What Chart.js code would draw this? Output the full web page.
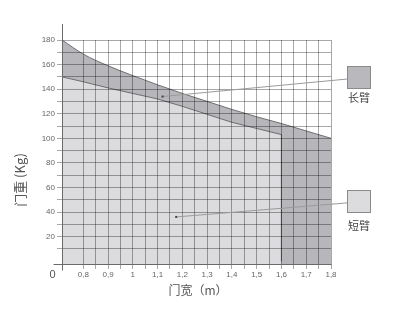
<!DOCTYPE html>
<html>
<head>
<meta charset="utf-8">
<script src="https://cdn.jsdelivr.net/npm/chart.js@4"></script>
<style>
  html, body { margin: 0; padding: 0; background: #fff; }
  canvas { display: block; }
</style>
</head>
<body>
<canvas id="chart" width="408" height="314"></canvas>
<script>
/* ==========================================
   门重 / 门宽 — 长臂 vs 短臂 zones
   ========================================== */

const X_MIN = 0.714;
const X_MAX = 1.8;
const Y_MIN = -2.3;
const Y_MAX = 180;

// door width (m) where the long-arm limit was read
const widthPts = [0.714, 0.8, 0.9, 1.0, 1.1, 1.2, 1.3, 1.4, 1.5, 1.6, 1.7, 1.8];
// 长臂 upper limit (kg)
const longArmKg = [180, 168.5, 159, 151, 143.5, 136.5, 130, 123.5, 117.5, 112, 106, 100];
// 短臂 limit (kg) — stops at 1.6 m and drops to 0
const shortArmWidth = [0.714, 0.8, 0.9, 1.0, 1.1, 1.2, 1.3, 1.4, 1.5, 1.6, 1.6];
const shortArmKg = [150, 146, 141, 136.5, 132, 126, 119.5, 113, 108, 103, 0];

// grid / tick positions
const xTicks = [0.8, 0.85, 0.9, 0.95, 1.0, 1.05, 1.1, 1.15, 1.2, 1.25, 1.3, 1.35, 1.4, 1.45, 1.5, 1.55, 1.6, 1.65, 1.7, 1.75, 1.8];
const yTicks = [10, 20, 30, 40, 50, 60, 70, 80, 90, 100, 110, 120, 130, 140, 150, 160, 170, 180];

// where the callout lines start (data coords)
const longArmMarker = { x: 1.12, y: 134 };
const shortArmMarker = { x: 1.175, y: 36 };

const TICK_FONT = { family: 'Liberation Sans, Arial, sans-serif', size: 8 };
const CJK = '"Noto Sans CJK SC", sans-serif';
const GRID = 'rgba(0,0,0,0.34)';

function toPoints(xs, ys) {
  return xs.map((x, i) => ({ x, y: ys[i] }));
}

function formatWidth(v) {
  const r = Math.round(v * 100);
  if (r % 10 !== 0) return '';
  if (r % 100 === 0) return String(r / 100);
  return (r / 100).toFixed(1).replace('.', ',');
}

const decorations = {
  id: 'decorations',
  afterDraw(chart) {
    const { ctx, chartArea } = chart;
    const xs = chart.scales.x;
    const ys = chart.scales.y;
    const L = Math.round(chartArea.left) + 0.5;
    const B = Math.round(chartArea.bottom) + 0.5;

    ctx.save();

    // axis lines, slightly overshooting like the original
    ctx.strokeStyle = '#6a6a6a';
    ctx.lineWidth = 1;
    ctx.beginPath();
    ctx.moveTo(L, chartArea.top - 16);
    ctx.lineTo(L, B + 6);
    ctx.moveTo(L - 9, B);
    ctx.lineTo(Math.round(chartArea.right) + 0.5, B);
    ctx.stroke();

    // origin label
    ctx.fillStyle = '#555';
    ctx.font = '11px Liberation Sans, Arial, sans-serif';
    ctx.textAlign = 'center';
    ctx.textBaseline = 'middle';
    ctx.fillText('0', L - 10, B + 10);

    // axis titles
    ctx.font = '12px ' + CJK;
    ctx.fillStyle = '#555';
    ctx.fillText('门宽（m）', 198, 290);
    ctx.save();
    ctx.translate(20, 180);
    ctx.rotate(-Math.PI / 2);
    ctx.font = '13px ' + CJK;
    ctx.fillText('门重 (Kg)', 0, 0);
    ctx.restore();

    // callouts
    const callouts = [
      { m: longArmMarker, box: { x: 347, y: 66 }, fill: '#b9b9bd', label: '长臂', ly: 98 },
      { m: shortArmMarker, box: { x: 347, y: 190 }, fill: '#dcdcde', label: '短臂', ly: 226 }
    ];
    callouts.forEach(c => {
      const px = xs.getPixelForValue(c.m.x);
      const py = ys.getPixelForValue(c.m.y);
      ctx.strokeStyle = '#9a9a9a';
      ctx.lineWidth = 1;
      ctx.beginPath();
      ctx.moveTo(px, py);
      ctx.lineTo(c.box.x + 11, c.box.y + 12);
      ctx.stroke();
      ctx.fillStyle = '#444';
      ctx.fillRect(px - 1, py - 1, 2, 2);

      ctx.fillStyle = c.fill;
      ctx.fillRect(c.box.x, c.box.y, 24, 23);
      ctx.strokeStyle = '#8a8a8a';
      ctx.strokeRect(c.box.x + 0.5, c.box.y + 0.5, 23, 22);

      ctx.fillStyle = '#444';
      ctx.font = '11px ' + CJK;
      ctx.fillText(c.label, c.box.x + 12, c.ly);
    });

    ctx.restore();
  }
};

new Chart(document.getElementById('chart'), {
  type: 'line',
  data: {
    datasets: [
      {
        label: '短臂',
        data: toPoints(shortArmWidth, shortArmKg),
        borderColor: '#6e6e70',
        borderWidth: 1,
        backgroundColor: '#dcdcde',
        fill: 'start',
        tension: 0,
        pointRadius: 0,
        order: 1
      },
      {
        label: '长臂',
        data: toPoints(widthPts, longArmKg),
        borderColor: '#6e6e70',
        borderWidth: 1,
        backgroundColor: '#b7b7bb',
        fill: 'start',
        cubicInterpolationMode: 'monotone',
        pointRadius: 0,
        order: 2
      }
    ]
  },
  options: {
    responsive: false,
    animation: false,
    layout: { padding: { top: 40, right: 77, left: 0, bottom: 0 } },
    plugins: {
      legend: { display: false },
      tooltip: { enabled: false }
    },
    scales: {
      x: {
        type: 'linear',
        min: X_MIN,
        max: X_MAX,
        afterBuildTicks: s => { s.ticks = xTicks.map(v => ({ value: v })); },
        afterFit: s => { s.height = 50; },
        border: { display: false },
        grid: { color: GRID, lineWidth: 1, tickLength: 5, z: 1 },
        ticks: {
          color: '#666',
          font: TICK_FONT,
          padding: 1,
          maxRotation: 0,
          autoSkip: false,
          callback: v => formatWidth(v)
        }
      },
      y: {
        min: Y_MIN,
        max: Y_MAX,
        afterBuildTicks: s => { s.ticks = yTicks.map(v => ({ value: v })); },
        afterFit: s => { s.width = 62; },
        border: { display: false },
        grid: { color: GRID, lineWidth: 1, tickLength: 5, z: 1 },
        ticks: {
          color: '#666',
          font: TICK_FONT,
          padding: 2,
          autoSkip: false,
          callback: v => (v % 20 === 0 ? String(v) : '')
        }
      }
    }
  },
  plugins: [decorations]
});
</script>
</body>
</html>
